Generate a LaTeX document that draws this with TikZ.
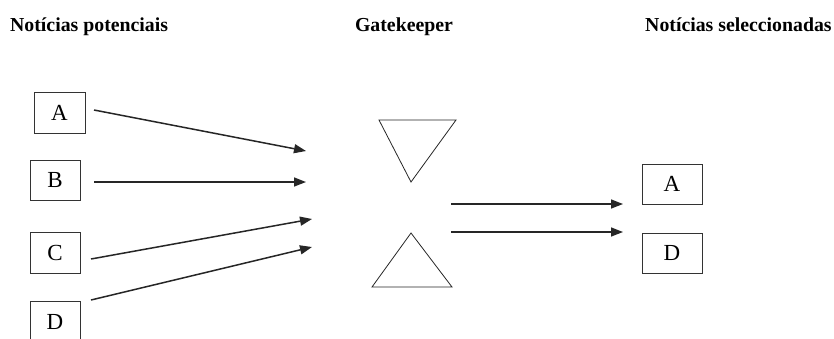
\documentclass[tikz,border=0pt]{standalone}
\usepackage{fontspec}
\setmainfont{Liberation Serif}
\usetikzlibrary{arrows.meta}
\begin{document}
\begin{tikzpicture}[x=1pt,y=-1pt,
  heading/.style={font=\fontsize{19.8}{22}\selectfont\bfseries, inner sep=0pt},
  newsbox/.style={draw=black!80, line width=0.9pt, inner sep=0pt, font=\fontsize{23}{25}\selectfont},
  flow/.style={draw=black!85, line width=1.5pt, -{Triangle[length=12pt,width=9pt]}},
  gate/.style={draw=black!85, line width=0.8pt, line join=miter}]
  \useasboundingbox (0,0) rectangle (834,338);
  \clip (0,0) rectangle (834,338);

  % column headings
  \node[heading, anchor=base west] (h1) at (10,31) {Notícias potenciais};
  \node[heading, anchor=base] (h2) at (404,31) {Gatekeeper};
  \node[heading, anchor=base west] (h3) at (645,31) {Notícias seleccionadas};

  % incoming news items
  \node[newsbox, minimum width=51pt, minimum height=41pt] (a) at (59.5,112.5) {A};
  \node[newsbox, minimum width=50pt, minimum height=40pt] (b) at (55,180) {B};
  \node[newsbox, minimum width=50pt, minimum height=41pt] (c) at (55,252.5) {C};
  \node[newsbox, minimum width=50pt, minimum height=41pt] (d) at (55,321.5) {D};

  % selected news items
  \node[newsbox, minimum width=60pt, minimum height=40pt] (sa) at (672,184) {A};
  \node[newsbox, minimum width=60pt, minimum height=40pt] (sd) at (672,253) {D};

  % arrow end points
  \coordinate (a0) at (94,110);  \coordinate (a1) at (306,151);
  \coordinate (b0) at (94,182);  \coordinate (b1) at (306,182);
  \coordinate (c0) at (91,259);  \coordinate (c1) at (312,219);
  \coordinate (d0) at (91,300);  \coordinate (d1) at (312,247);
  \coordinate (o1) at (451,204); \coordinate (o2) at (451,232);
  \coordinate (p1) at (623,204); \coordinate (p2) at (623,232);

  \draw[flow] (a0) -- (a1);
  \draw[flow] (b0) -- (b1);
  \draw[flow] (c0) -- (c1);
  \draw[flow] (d0) -- (d1);

  % the gate: two facing triangles
  \coordinate (g1) at (379,120); \coordinate (g2) at (456,120); \coordinate (g3) at (411,182);
  \coordinate (g4) at (411,233); \coordinate (g5) at (452,287); \coordinate (g6) at (372,287);
  \draw[gate] (g1) -- (g2) -- (g3) -- cycle;
  \draw[gate] (g4) -- (g5) -- (g6) -- cycle;

  % outgoing arrows
  \draw[flow] (o1) -- (p1);
  \draw[flow] (o2) -- (p2);
\end{tikzpicture}
\end{document}
